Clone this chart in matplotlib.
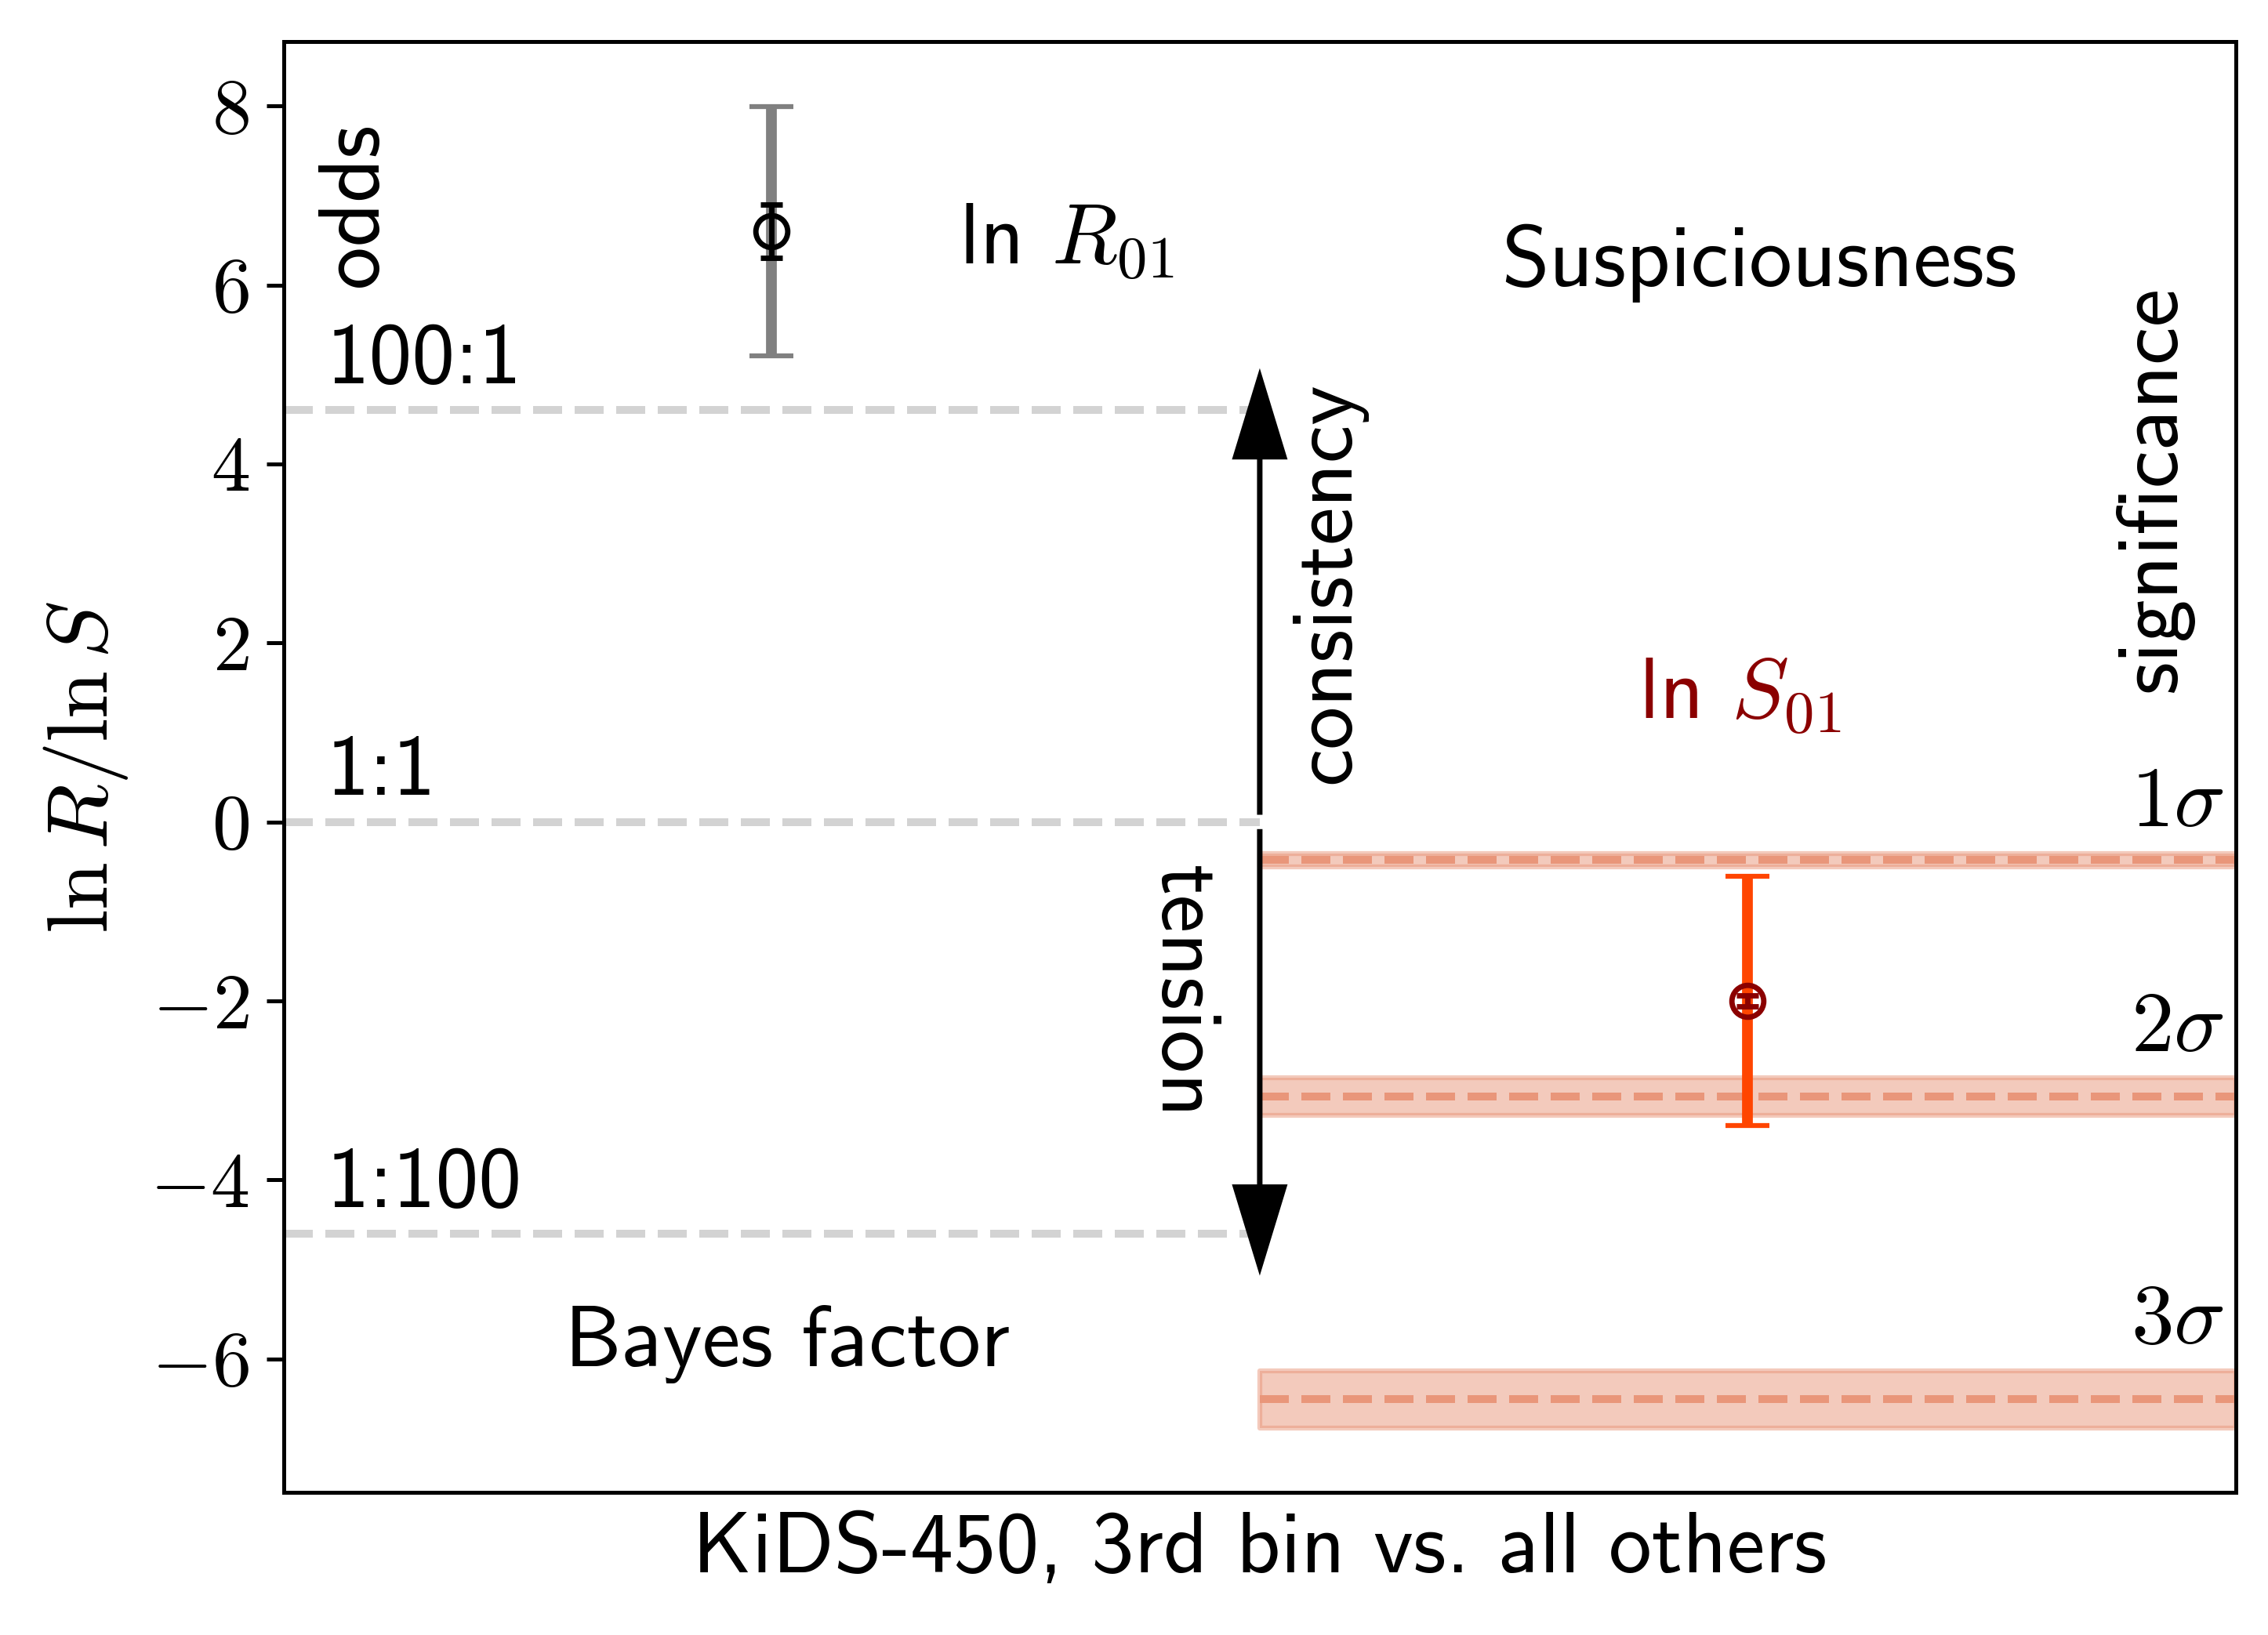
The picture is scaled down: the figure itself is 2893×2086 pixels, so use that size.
import matplotlib
matplotlib.use("Agg")
import matplotlib.pyplot as plt
from matplotlib.ticker import FuncFormatter

# values
ln_R = 6.6
ln_R_err = 0.30        # inner (black) error
ln_R_spread = 1.39     # outer (gray) bar
ln_S = -2.0
ln_S_err = 0.06
ln_S_spread = 1.39

odds_levels = [4.605, 0.0, -4.605]
odds_labels = ['100:1', '1:1', '1:100']

sigma_levels = [-0.425, -3.07, -6.45]
sigma_halfwidths = [0.075, 0.21, 0.32]
sigma_labels = [r'$1\sigma$', r'$2\sigma$', r'$3\sigma$']

plt.rcParams['font.family'] = ['cmss10', 'DejaVu Sans']
plt.rcParams['mathtext.fontset'] = 'cm'
plt.rcParams['axes.unicode_minus'] = False

fs = 17.5
fig = plt.figure(figsize=(2893 / 450, 2086 / 450), dpi=450)
ax = fig.add_axes([0.1251, 0.0873, 0.8607, 0.8873])

# Bayes factor side
for lev, lab in zip(odds_levels, odds_labels):
    ax.plot([0, 0.5], [lev, lev], ls='--', color='lightgray', lw=1.6, zorder=1)
    ax.text(0.022, lev + 0.3, lab, fontsize=fs, ha='left', va='baseline')

ax.errorbar([0.25], [ln_R], yerr=[ln_R_spread], color='gray', elinewidth=2.2,
            capsize=4.5, capthick=1.0, fmt='none', zorder=2)
ax.errorbar([0.25], [ln_R], yerr=[ln_R_err], fmt='o', color='k', mfc='none',
            ms=6.5, mew=1.1, elinewidth=1.1, capsize=2.2, capthick=1.0, zorder=3)

# suspiciousness side
for lev, hw, lab in zip(sigma_levels, sigma_halfwidths, sigma_labels):
    ax.fill_between([0.5, 1.0], lev - hw, lev + hw, color='darksalmon', alpha=0.5,
                    lw=1.0, zorder=1)
    ax.plot([0.5, 1.0], [lev, lev], ls='--', color='darksalmon', lw=1.6, zorder=1)
    ax.text(0.994, lev + hw + 0.3, lab, fontsize=fs, ha='right', va='baseline')

ax.errorbar([0.75], [ln_S], yerr=[ln_S_spread], color='orangered', elinewidth=2.2,
            capsize=4.5, capthick=1.0, fmt='none', zorder=2)
ax.errorbar([0.75], [ln_S], yerr=[ln_S_err], fmt='o', color='darkred', mfc='none',
            ms=6.5, mew=1.1, elinewidth=1.1, capsize=2.2, capthick=1.0, zorder=3)

# consistency / tension arrows
ax.arrow(0.5, 0.08, 0, 4.99, width=0.0028, head_width=0.0285, head_length=1.02,
         length_includes_head=True, color='k', lw=0, zorder=4)
ax.arrow(0.5, -0.08, 0, -4.99, width=0.0028, head_width=0.0285, head_length=1.02,
         length_includes_head=True, color='k', lw=0, zorder=4)

ax.text(0.546, 2.67, 'consistency', fontsize=fs, rotation=90,
        rotation_mode='anchor', ha='center', va='baseline')
ax.text(0.449, -1.90, 'tension', fontsize=fs, rotation=-90,
        rotation_mode='anchor', ha='center', va='baseline')
ax.text(0.048, 6.9, 'odds', fontsize=fs, rotation=90,
        rotation_mode='anchor', ha='center', va='baseline')
ax.text(0.969, 3.72, 'significance', fontsize=fs, rotation=90,
        rotation_mode='anchor', ha='center', va='baseline')

ax.text(0.346, 6.23, r'ln $R_{01}$', fontsize=fs, ha='left', va='baseline')
ax.text(0.746, 1.15, r'ln $S_{01}$', fontsize=fs, ha='center', va='baseline',
        color='darkred')
ax.text(0.756, 5.99, 'Suspiciousness', fontsize=fs, ha='center', va='baseline')
ax.text(0.258, -6.08, 'Bayes factor', fontsize=fs, ha='center', va='baseline')

ax.set_xlim(0, 1)
ax.set_ylim(-7.49, 8.72)
ax.set_xticks([])
ax.set_yticks([-6, -4, -2, 0, 2, 4, 6, 8])
ax.yaxis.set_major_formatter(FuncFormatter(lambda v, p: r'$%d$' % v))
ax.tick_params(axis='y', labelsize=16)
ax.set_ylabel(r'$\ln R/\ln S$', fontsize=fs)
ax.set_xlabel('KiDS-450, 3rd bin vs. all others', fontsize=fs)

fig.savefig('out.png', dpi=450)
